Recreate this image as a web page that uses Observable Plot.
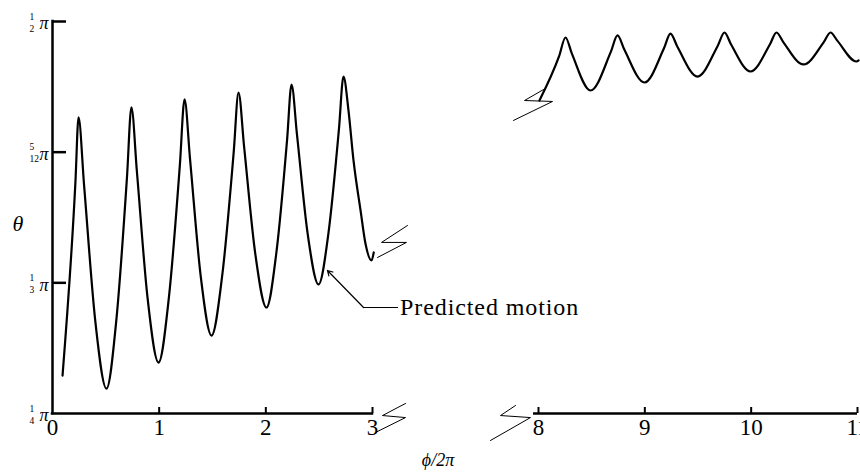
<!DOCTYPE html>
<html><head><meta charset="utf-8">
<script src="https://cdn.jsdelivr.net/npm/d3@7"></script>
<script src="https://cdn.jsdelivr.net/npm/@observablehq/plot@0.6"></script>
<style>body{margin:0;background:#fff} svg{display:block}</style>
</head><body><div id="chart"></div>
<script>
// Predicted motion, phi/2pi from 0 to 3 (theta in units of pi)
const leftPhi = [0.094,0.215,0.244,0.296,0.401,0.506,0.600,0.698,0.740,0.791,0.892,0.994,1.092,1.194,1.238,1.289,1.390,1.491,1.592,1.698,1.744,1.796,1.901,2.006,2.100,2.199,2.241,2.292,2.393,2.494,2.588,2.686,2.728,2.775,2.822,2.888,2.934,2.991,3.037];
const leftTheta = [0.2742,0.3977,0.4388,0.3956,0.3091,0.2659,0.3107,0.4004,0.4452,0.4045,0.3232,0.2825,0.3245,0.4084,0.4503,0.4126,0.3373,0.2997,0.3385,0.4160,0.4547,0.4204,0.3519,0.3176,0.3532,0.4243,0.4598,0.4279,0.3642,0.3323,0.3655,0.4318,0.4649,0.4432,0.4114,0.3795,0.3584,0.3476,0.3527];
// phi/2pi from 8 to 11
const rightPhi = [8.009,8.193,8.254,8.313,8.489,8.680,8.743,8.807,8.997,9.180,9.241,9.305,9.495,9.686,9.749,9.810,9.994,10.177,10.238,10.302,10.492,10.683,10.746,10.810,10.990,11.010];
const rightTheta = [0.4496,0.4777,0.4898,0.4797,0.4560,0.4806,0.4911,0.4821,0.4611,0.4829,0.4923,0.4841,0.4649,0.4846,0.4930,0.4855,0.4681,0.4855,0.4930,0.4869,0.4726,0.4869,0.4930,0.4878,0.4745,0.4752];

// break symbols
const curveBreakLPhi = [4.054,3.271,4.024,3.151];
const curveBreakLTheta = [0.3699,0.3591,0.3591,0.3495];
const curveBreakRPhi = [8.047,7.578,8.132,7.247];
const curveBreakRTheta = [0.4566,0.4496,0.4490,0.4369];
const axisBreakLPhi = [3.994,3.301,3.994,3.090];
const axisBreakLTheta = [0.2564,0.2487,0.2474,0.2379];
const axisBreakRPhi = [7.307,6.855,7.759,6.554];
const axisBreakRTheta = [0.2551,0.2487,0.2474,0.2328];

// ticks
const xTicks = [0,1,2,3,8,9,10,11];
const xTickLabels = ["0","1","2","3","8","9","10","11"];
const yTicks = [0.5, 5/12, 1/3, 0.25];
const yTickNum = ["1","5","1","1"];
const yTickDen = ["2","12","3","4"];

// annotation
const annotationText = "Predicted motion";
const leaderPhi = [3.753, 2.916];
const leaderTheta = [0.3176, 0.3176];
const arrowTipPhi = 2.578;
const arrowTipTheta = 0.3412;
const textPhi = 3.83;
const textTheta = 0.3176;

const toRows = (xs, ys) => xs.map((x, i) => ({x, y: ys[i]}));
const left = toRows(leftPhi, leftTheta);
const right = toRows(rightPhi, rightTheta);
const serif = "Liberation Serif, Times New Roman, serif";

const chart = Plot.plot({
  width: 860, height: 476,
  marginLeft: 52, marginRight: 3, marginTop: 21, marginBottom: 63,
  x: {type: "linear", domain: [0,3,8,11], range: [52,372,538,857], axis: null},
  y: {domain: [0.25, 0.5], axis: null},
  style: {background: "white", color: "black", fontFamily: serif, overflow: "visible"},
  marks: [
    // axes
    Plot.ruleX([0], {y1: 0.25, y2: 0.5, stroke: "black", strokeWidth: 2.5, strokeLinecap: "square"}),
    Plot.ruleY([0.25], {x1: 0, x2: 3, stroke: "black", strokeWidth: 2.5, strokeLinecap: "square"}),
    Plot.ruleY([0.25], {x1: 7.85, x2: 11, stroke: "black", strokeWidth: 2.5}),
    Plot.ruleY(yTicks.slice(0, 3), {x1: 0, x2: 3, insetRight: 306, stroke: "black", strokeWidth: 2.5}),
    Plot.ruleX(xTicks.slice(1), {y1: 0.5, y2: 0.25, insetTop: 386, stroke: "black", strokeWidth: 2}),
    // x tick labels
    Plot.text(xTicks, {x: d => d, frameAnchor: "bottom", dy: 21, text: (d, i) => xTickLabels[i], fontSize: 23, fontFamily: serif}),
    // y tick labels (fractions of pi)
    Plot.text(yTicks, {y: d => d, frameAnchor: "left", dx: -23, dy: -5, text: (d, i) => yTickNum[i], fontSize: 9.5, fontFamily: serif}),
    Plot.text(yTicks, {y: d => d, frameAnchor: "left", dx: -23, dy: 7, text: (d, i) => yTickDen[i], fontSize: 9.5, fontFamily: serif}),
    Plot.text(yTicks, {y: d => d, frameAnchor: "left", dx: -13, dy: 2, text: () => "π", fontSize: 18, fontStyle: "italic", fontFamily: serif}),
    // axis titles
    Plot.text(["θ"], {frameAnchor: "left", dx: -40, dy: 6, fontSize: 22, fontStyle: "italic", fontFamily: serif}),
    Plot.text(["ϕ/2π"], {frameAnchor: "bottom", dx: -17, dy: 52, fontSize: 18, fontStyle: "italic", fontFamily: serif}),
    // curves
    Plot.line(left, {x: "x", y: "y", curve: "monotone-x", stroke: "black", strokeWidth: 2.2}),
    Plot.line(right, {x: "x", y: "y", curve: "monotone-x", stroke: "black", strokeWidth: 2.2}),
    // break symbols
    Plot.line(toRows(curveBreakLPhi, curveBreakLTheta), {x: "x", y: "y", stroke: "black", strokeWidth: 1}),
    Plot.line(toRows(curveBreakRPhi, curveBreakRTheta), {x: "x", y: "y", stroke: "black", strokeWidth: 1}),
    Plot.line(toRows(axisBreakLPhi, axisBreakLTheta), {x: "x", y: "y", stroke: "black", strokeWidth: 1}),
    Plot.line(toRows(axisBreakRPhi, axisBreakRTheta), {x: "x", y: "y", stroke: "black", strokeWidth: 1}),
    // annotation
    Plot.line(toRows(leaderPhi, leaderTheta), {x: "x", y: "y", stroke: "black", strokeWidth: 1.2}),
    Plot.arrow([{x1: leaderPhi[1], y1: leaderTheta[1], x2: arrowTipPhi, y2: arrowTipTheta}], {x1: "x1", y1: "y1", x2: "x2", y2: "y2", stroke: "black", strokeWidth: 1.2, headLength: 7}),
    Plot.text([annotationText], {x: textPhi, y: textTheta, textAnchor: "start", fontSize: 24, fontFamily: serif})
  ]
});
// widen the annotation's letter spacing to match the reference typesetting
d3.select(chart).selectAll("text").filter(function() { return this.textContent === annotationText; })
  .style("letter-spacing", "0.9px");
document.getElementById("chart").append(chart);
</script>
</body></html>
